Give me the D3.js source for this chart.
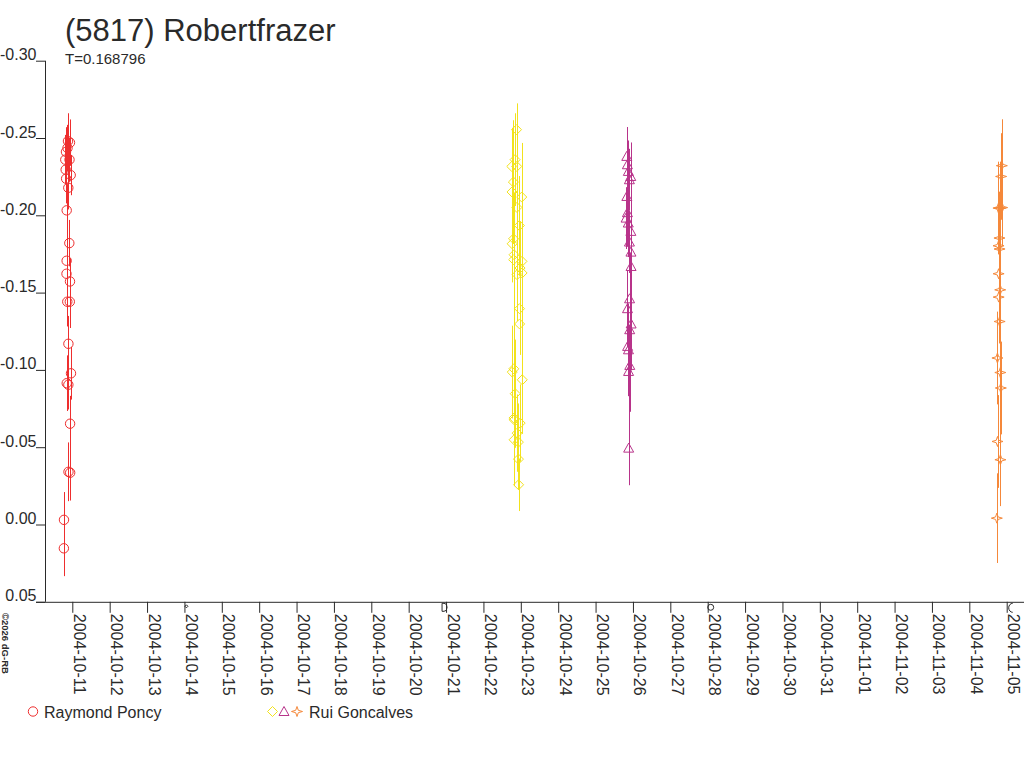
<!DOCTYPE html>
<html><head><meta charset="utf-8">
<script src="https://cdn.jsdelivr.net/npm/d3@7/dist/d3.min.js"></script>
<style>
html,body{margin:0;padding:0;background:#fff;}
svg{display:block;font-family:"Liberation Sans",Arial,sans-serif;}
</style></head>
<body>
<svg id="chart" width="1024" height="768"></svg>
<script>
// ---------- DATA ----------
const title = "(5817) Robertfrazer";
const subtitle = "T=0.168796";
const credit = "\u00A92026 dG-RB";
const xStart = "2004-10-11T00:00Z";
const xEnd = "2004-11-05T00:00Z";
const yTicks = [-0.30, -0.25, -0.20, -0.15, -0.10, -0.05, 0.00, 0.05];
const yTickLabels = ["-0.30", "-0.25", "-0.20", "-0.15", "-0.10", "-0.05", "0.00", "0.05"];

// Raymond Poncy (red circles)
const poncyTime = ["2004-10-10T21:14","2004-10-10T22:31","2004-10-10T19:57","2004-10-10T22:12","2004-10-10T19:45",
  "2004-10-10T22:58","2004-10-10T20:02","2004-10-10T21:26","2004-10-10T20:24","2004-10-10T22:05",
  "2004-10-10T20:22","2004-10-10T20:17","2004-10-10T22:31","2004-10-10T20:47","2004-10-10T22:24",
  "2004-10-10T21:30","2004-10-10T23:10","2004-10-10T20:26","2004-10-10T21:28","2004-10-10T22:35",
  "2004-10-10T21:33","2004-10-10T22:38","2004-10-10T18:40","2004-10-10T18:35","2004-10-10T19:30","2004-10-10T20:55"];
const poncyMag = [-0.248,-0.247,-0.241,-0.236,-0.2295,-0.226,-0.2237,-0.2178,-0.2032,-0.182,
  -0.1706,-0.1622,-0.1572,-0.1441,-0.1441,-0.1169,-0.0978,-0.0914,-0.0904,-0.0652,
  -0.0341,-0.0335,-0.003,0.0154,-0.236,-0.2435];
const poncyErr = [0.018,0.015,0.016,0.014,0.015,0.013,0.016,0.014,0.017,0.015,
  0.016,0.017,0.015,0.016,0.017,0.018,0.017,0.018,0.016,0.018,
  0.019,0.018,0.018,0.018,0.016,0.015];

// Rui Goncalves session 1 (yellow diamonds)
const gon1Time = ["2004-10-22T21:15","2004-10-22T20:18","2004-10-22T18:12","2004-10-22T21:24","2004-10-22T19:14",
  "2004-10-22T18:20","2004-10-23T00:37","2004-10-22T21:30","2004-10-22T23:05","2004-10-22T19:20",
  "2004-10-22T18:25","2004-10-22T19:40","2004-10-22T19:25","2004-10-23T00:45","2004-10-22T23:31",
  "2004-10-23T00:50","2004-10-22T21:35","2004-10-22T23:10","2004-10-22T23:15","2004-10-22T19:30",
  "2004-10-22T18:30","2004-10-23T00:55","2004-10-22T20:25","2004-10-22T19:35","2004-10-22T19:45",
  "2004-10-22T23:35","2004-10-22T21:40","2004-10-22T19:40","2004-10-22T22:26","2004-10-22T22:30","2004-10-22T22:35"];
const gon1Mag = [-0.2554,-0.236,-0.2316,-0.2316,-0.2215,-0.2151,-0.2118,-0.2051,-0.1934,-0.1848,
  -0.1816,-0.1745,-0.1713,-0.1702,-0.1659,-0.1627,-0.1616,-0.1396,-0.1297,-0.1007,
  -0.0986,-0.0936,-0.0846,-0.0688,-0.0677,-0.0656,-0.0591,-0.0548,-0.0533,-0.0423,-0.0257];
const gon1Err = [0.017,0.030,0.025,0.022,0.040,0.028,0.035,0.030,0.032,0.030,
  0.025,0.028,0.035,0.030,0.030,0.035,0.030,0.020,0.020,0.040,
  0.030,0.035,0.035,0.030,0.025,0.025,0.025,0.030,0.025,0.020,0.017];

// Rui Goncalves session 2 (purple triangles)
const gon2Time = ["2004-10-25T20:02","2004-10-25T20:25","2004-10-25T21:04","2004-10-25T22:36","2004-10-25T21:43",
  "2004-10-25T20:05","2004-10-25T20:28","2004-10-25T19:36","2004-10-25T21:00","2004-10-25T22:40",
  "2004-10-25T21:45","2004-10-25T22:44","2004-10-25T22:48","2004-10-25T21:50","2004-10-25T20:30",
  "2004-10-25T22:50","2004-10-25T21:55","2004-10-25T20:35","2004-10-25T21:08","2004-10-25T21:58",
  "2004-10-25T21:12","2004-10-25T21:15"];
const gon2Mag = [-0.2381,-0.2327,-0.2284,-0.2251,-0.2230,-0.2122,-0.2017,-0.1982,-0.1950,-0.1896,
  -0.1827,-0.1762,-0.1669,-0.1460,-0.1396,-0.1297,-0.1260,-0.1152,-0.1130,-0.1029,-0.0990,-0.0494];
const gon2Err = [0.019,0.020,0.020,0.022,0.020,0.020,0.022,0.020,0.022,0.020,
  0.020,0.022,0.025,0.030,0.025,0.030,0.030,0.025,0.030,0.030,0.030,0.024];

// Rui Goncalves session 3 (orange stars)
const gon3Time = ["2004-11-04T20:53","2004-11-04T20:25","2004-11-04T19:48","2004-11-04T18:42","2004-11-04T21:03",
  "2004-11-04T19:21","2004-11-04T18:45","2004-11-04T19:25","2004-11-04T18:48","2004-11-04T19:50",
  "2004-11-04T18:50","2004-11-04T19:28","2004-11-04T18:03","2004-11-04T19:55","2004-11-04T20:14",
  "2004-11-04T18:06","2004-11-04T19:58","2004-11-04T17:40"];
const gon3Mag = [-0.2321,-0.2251,-0.2047,-0.2047,-0.2050,-0.1853,-0.1803,-0.1782,-0.1622,-0.1518,
  -0.1471,-0.1313,-0.1077,-0.0983,-0.0883,-0.0537,-0.0419,-0.0041];
const gon3Err = [0.030,0.028,0.030,0.030,0.025,0.030,0.028,0.030,0.030,0.030,
  0.030,0.028,0.030,0.030,0.030,0.030,0.030,0.029];

const legendNames = ["Raymond Poncy", "Rui Goncalves"];

// ---------- CHART ----------
const svg = d3.select("#chart");
const ink = "#2a2a2a";
const colors = {red:"#ee2e2e", yellow:"#f2e21c", purple:"#b8338a", orange:"#f5883a"};

const x = d3.scaleUtc().domain([new Date(xStart), new Date(xEnd)]).range([72.3, 1006.7]);
const y = d3.scaleLinear().domain([-0.30, 0.05]).range([60.7, 601.8]);

// title
svg.append("text").attr("x", 65).attr("y", 41).attr("font-size", 31).attr("fill", ink).text(title);
svg.append("text").attr("x", 65).attr("y", 64).attr("font-size", 15).attr("fill", ink).text(subtitle);

// y axis
const gy = svg.append("g").attr("transform", "translate(45,0)")
  .call(d3.axisLeft(y).tickValues(yTicks).tickSize(9).tickFormat((d,i) => yTickLabels[i]));
gy.select(".domain").attr("d", `M0.5,${y(-0.30)}V${y(0.05)}`).attr("stroke", ink);
gy.selectAll(".tick line").attr("stroke", ink);
gy.selectAll(".tick text").attr("font-size", 16).attr("fill", ink)
  .attr("font-family", '"Liberation Sans",Arial,sans-serif')
  .attr("x", -8.5).attr("dy", "-1").attr("y", 0);

// x axis
const gx = svg.append("g").attr("transform", `translate(0,${y(0.05)})`)
  .call(d3.axisBottom(x).ticks(d3.utcDay.every(1)).tickSize(11).tickFormat(d3.utcFormat("%Y-%m-%d")));
gx.select(".domain").attr("d", "M36,0.5H1024").attr("stroke", ink);
gx.selectAll(".tick line").attr("stroke", ink);
gx.selectAll(".tick text").attr("font-size", 16).attr("fill", ink)
  .attr("font-family", '"Liberation Sans",Arial,sans-serif')
  .attr("text-anchor", "start").attr("dy", null).attr("y", 0).attr("x", 0)
  .attr("transform", "translate(1,12) rotate(90)");

// small glyphs sitting on the x axis
const axG = svg.append("g").attr("fill", "none").attr("stroke", ink).attr("stroke-width", 1);
const d14 = x(new Date("2004-10-14T00:00Z")), d21 = x(new Date("2004-10-21T00:00Z")),
      d28 = x(new Date("2004-10-28T00:00Z")), d05 = x(new Date("2004-11-05T00:00Z"));
const ay = y(0.05);
axG.append("path").attr("d", `M${d14+2},${ay+3}l1.5,1.5l-1.5,1.5l-1.5,-1.5z`);
axG.append("path").attr("d", `M${d21-4},${ay+1.5}h2a3,4 0 0 1 0,8h-2z`);
axG.append("circle").attr("cx", d28+3).attr("cy", ay+5.5).attr("r", 3);
axG.append("path").attr("d", `M${d05+6},${ay+1.5}a4,4.5 0 0 0 0,9`);

// credit
svg.append("text").attr("transform", "translate(2,613) rotate(90)")
  .attr("font-size", 9.5).attr("font-weight", "bold").attr("fill", ink).text(credit);

// marker shapes
const shapes = {
  circle: s => s.append("circle").attr("r", 4.7),
  diamond: s => s.append("path").attr("d", "M0,-5L5,0L0,5L-5,0Z"),
  triangle: s => s.append("path").attr("d", "M0,-5L5,4L-5,4Z"),
  star: s => s.append("path").attr("d", "M0,-5L1.3,-1.2L5.5,0L1.3,1.2L0,5L-1.3,1.2L-5.5,0L-1.3,-1.2Z")
};

function series(times, mags, errs, color, shape) {
  const data = times.map((t, i) => ({t: new Date(t + "Z"), m: mags[i], e: errs[i]}));
  const g = svg.append("g");
  g.selectAll("line").data(data).join("line")
    .attr("x1", d => Math.round(x(d.t)) + 0.5).attr("x2", d => Math.round(x(d.t)) + 0.5)
    .attr("y1", d => y(d.m - d.e)).attr("y2", d => y(d.m + d.e))
    .attr("stroke", color).attr("stroke-width", 1);
  const mk = g.selectAll("g.mk").data(data).join("g").attr("class", "mk")
    .attr("transform", d => `translate(${x(d.t)},${y(d.m)})`);
  shapes[shape](mk).attr("fill", "none").attr("stroke", color).attr("stroke-width", 1);
}

series(poncyTime, poncyMag, poncyErr, colors.red, "circle");
series(gon1Time, gon1Mag, gon1Err, colors.yellow, "diamond");
series(gon2Time, gon2Mag, gon2Err, colors.purple, "triangle");
series(gon3Time, gon3Mag, gon3Err, colors.orange, "star");

// legend
const lg = svg.append("g");
const ly = 711.5;
shapes.circle(lg.append("g").attr("transform", `translate(33,${ly})`)).attr("fill","none").attr("stroke",colors.red);
lg.append("text").attr("x", 44).attr("y", ly + 6).attr("font-size", 16).attr("fill", ink).text(legendNames[0]);
shapes.diamond(lg.append("g").attr("transform", `translate(272.5,${ly})`)).attr("fill","none").attr("stroke",colors.yellow);
shapes.triangle(lg.append("g").attr("transform", `translate(284,${ly})`)).attr("fill","none").attr("stroke",colors.purple);
shapes.star(lg.append("g").attr("transform", `translate(297,${ly})`)).attr("fill","none").attr("stroke",colors.orange);
lg.append("text").attr("x", 309).attr("y", ly + 6).attr("font-size", 16).attr("fill", ink).text(legendNames[1]);
</script>
</body></html>
